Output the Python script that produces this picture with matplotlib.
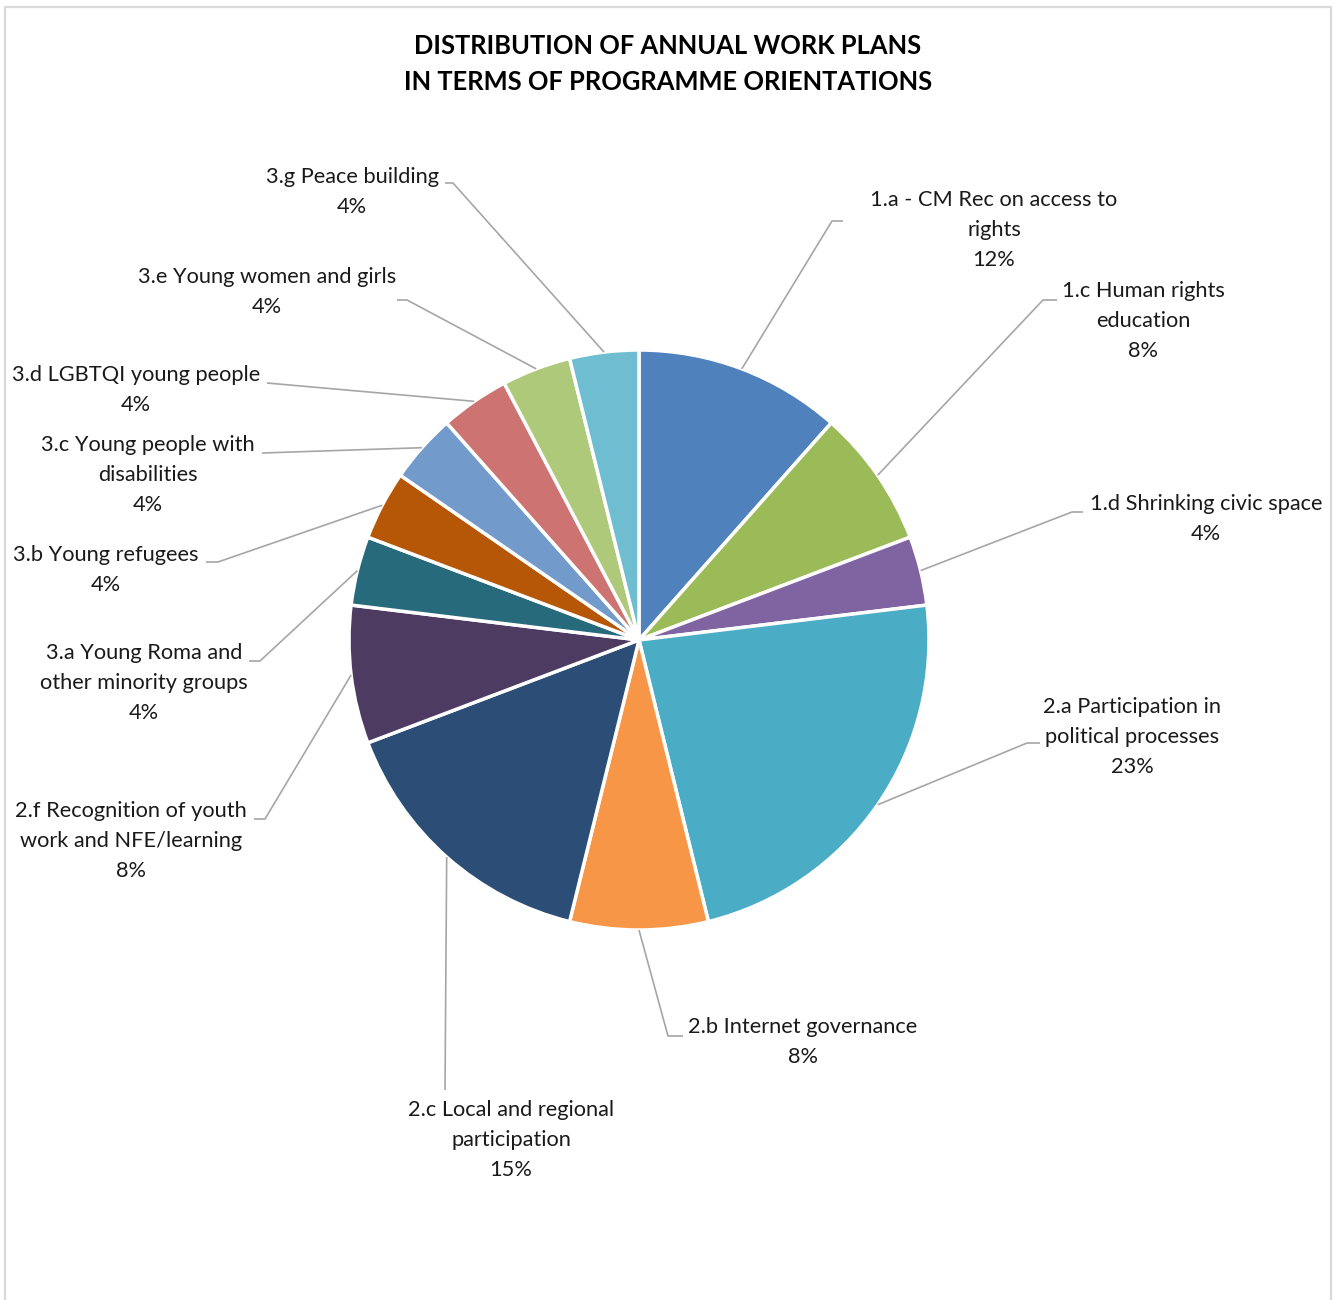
import matplotlib.pyplot as plt
import numpy as np

# work plans per programme orientation (counts, shown as rounded percentages)
labels = [
    "1.a - CM Rec on access to\nrights",
    "1.c Human rights\neducation",
    "1.d Shrinking civic space",
    "2.a Participation in\npolitical processes",
    "2.b Internet governance",
    "2.c Local and regional\nparticipation",
    "2.f Recognition of youth\nwork and NFE/learning",
    "3.a Young Roma and\nother minority groups",
    "3.b Young refugees",
    "3.c Young people with\ndisabilities",
    "3.d LGBTQI young people",
    "3.e Young women and girls",
    "3.g Peace building",
]
counts = [3, 2, 1, 6, 2, 4, 2, 1, 1, 1, 1, 1, 1]
colors = ["#4F81BD", "#9BBB59", "#8064A2", "#4BACC6", "#F79646", "#2C4D75",
          "#4D3B62", "#276A7C", "#B65708", "#729ACA", "#CD7371", "#AFC97A",
          "#6FBDD1"]

title = "DISTRIBUTION OF ANNUAL WORK PLANS\nIN TERMS OF PROGRAMME ORIENTATIONS"

W, H = 1336, 1300
# layout in pixels from top-left: text centre, then leader path after the slice edge
text_pos = [(994, 230), (1143, 321), (1206, 519), (1132, 737), (803, 1042),
            (511, 1140), (131, 841), (144, 683), (106, 570), (148, 475),
            (136, 390), (267, 292), (352, 192)]
leader_path = [
    [(832, 221), (843, 221)],
    [(1043, 300), (1057, 300)],
    [(1072, 512), (1083, 512)],
    [(1027, 743), (1040, 743)],
    [(668, 1036), (683, 1036)],
    [(445, 1090)],
    [(265, 819), (254, 819)],
    [(260, 661), (249, 661)],
    [(218, 562), (206, 562)],
    [(262, 453)],
    [(267, 383)],
    [(407, 300), (397, 300)],
    [(453, 183), (445, 183)],
]

plt.rcParams['font.family'] = ['Lato', 'DejaVu Sans']

fig = plt.figure(figsize=(W / 100, H / 100), dpi=100)
ax = fig.add_axes([0, 0, 1, 1])

cx, cy, r = 639, H - 640, 290
wedges, _ = ax.pie(counts, colors=colors, startangle=90, counterclock=False,
                   radius=r, center=(cx, cy),
                   wedgeprops=dict(edgecolor='white', linewidth=2.5))
ax.set_xlim(0, W)
ax.set_ylim(0, H)
ax.set_aspect('equal')
ax.axis('off')

total = sum(counts)
for w, lab, v, (tx, ty), path in zip(wedges, labels, counts, text_pos, leader_path):
    mid = np.deg2rad((w.theta1 + w.theta2) / 2)
    x0, y0 = cx + r * np.cos(mid), cy + r * np.sin(mid)
    xs = [x0] + [p[0] for p in path]
    ys = [y0] + [H - p[1] for p in path]
    ax.plot(xs, ys, color='#A6A6A6', lw=1.2, solid_capstyle='butt')
    ax.text(tx, H - ty, f"{lab}\n{v / total:.0%}", ha='center', va='center',
            fontsize=15.7, color='#1a1a1a', linespacing=1.6)

ax.text(668, H - 64, title, ha='center', va='center', fontsize=18.4,
        fontweight='bold', color='black', linespacing=1.6)

# outer chart border (open at the bottom)
ax.plot([5, 5, 1331, 1331], [0, H - 7, H - 7, 0], color='#D9D9D9', lw=1.6)

plt.savefig('out.png', dpi=100)
